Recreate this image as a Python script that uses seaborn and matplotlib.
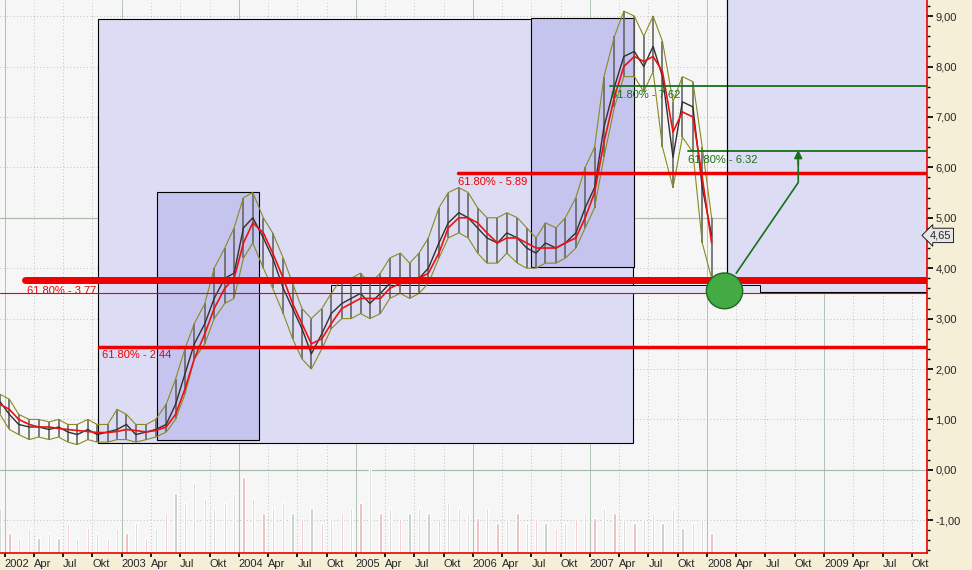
import matplotlib
matplotlib.use("Agg")
import matplotlib.pyplot as plt
import seaborn as sns
import numpy as np
import pandas as pd
from matplotlib.patches import Rectangle, Ellipse

sns.set_theme(style="white")
plt.rcParams['font.family'] = ['Liberation Sans', 'DejaVu Sans']

# monthly data (decimal year, close, high, low)
t = [2001.96,2002.04,2002.12,2002.21,2002.29,2002.38,2002.46,2002.54,2002.62,2002.71,2002.79,2002.88,
     2002.96,2003.04,2003.12,2003.21,2003.29,2003.38,2003.46,2003.54,2003.62,2003.71,2003.79,2003.88,
     2003.96,2004.04,2004.12,2004.21,2004.29,2004.38,2004.46,2004.54,2004.62,2004.71,2004.79,2004.88,
     2004.96,2005.04,2005.12,2005.21,2005.29,2005.38,2005.46,2005.54,2005.62,2005.71,2005.79,2005.88,
     2005.96,2006.04,2006.12,2006.21,2006.29,2006.38,2006.46,2006.54,2006.62,2006.71,2006.79,2006.88,
     2006.96,2007.04,2007.12,2007.21,2007.29,2007.38,2007.46,2007.54,2007.62,2007.71,2007.79,2007.88,
     2007.96,2008.04]
close = [1.35,1.1,0.9,0.85,0.85,0.8,0.85,0.75,0.7,0.8,0.7,0.75,
         0.8,0.9,0.7,0.75,0.8,0.9,1.3,1.9,2.5,2.9,3.4,3.8,
         3.9,4.8,5.0,4.6,4.2,3.6,3.2,2.8,2.3,2.7,3.1,3.3,
         3.4,3.5,3.3,3.5,3.7,3.8,3.7,3.8,4.0,4.5,4.9,5.1,
         5.0,4.8,4.6,4.5,4.7,4.6,4.4,4.3,4.5,4.4,4.5,4.7,
         5.2,5.6,6.8,7.6,8.2,8.3,8.0,8.4,7.8,6.2,7.3,7.2,
         5.6,4.65]
high = [1.5,1.4,1.1,1.0,1.0,0.95,1.0,0.9,0.9,1.0,0.9,0.9,
        1.2,1.1,0.9,0.9,1.0,1.3,1.8,2.4,2.9,3.3,4.0,4.4,
        4.8,5.4,5.5,5.0,4.7,4.2,3.7,3.2,3.0,3.2,3.5,3.8,
        3.8,3.9,3.7,3.9,4.2,4.3,4.1,4.3,4.6,5.2,5.5,5.6,
        5.5,5.2,5.0,5.0,5.1,5.0,4.8,4.6,4.9,4.8,5.0,5.4,
        6.0,6.4,7.8,8.6,9.1,9.0,8.6,9.0,8.5,7.3,7.8,7.7,
        6.4,5.0]
low = [1.1,0.8,0.7,0.6,0.65,0.6,0.65,0.55,0.5,0.6,0.55,0.55,
       0.6,0.6,0.55,0.6,0.65,0.75,1.0,1.5,2.2,2.5,3.0,3.3,
       3.4,4.2,4.5,4.0,3.6,3.1,2.6,2.2,2.0,2.4,2.8,3.0,
       3.0,3.1,3.0,3.1,3.4,3.5,3.4,3.5,3.7,4.2,4.6,4.7,
       4.6,4.3,4.1,4.1,4.3,4.1,4.0,4.0,4.1,4.1,4.2,4.4,
       4.8,5.2,6.2,7.2,7.8,7.8,7.5,7.9,6.4,5.6,6.6,6.3,
       4.5,3.8]
ma = [1.3,1.2,1.0,0.9,0.85,0.85,0.82,0.8,0.78,0.76,0.74,0.74,
      0.76,0.8,0.78,0.75,0.78,0.85,1.1,1.6,2.2,2.7,3.2,3.6,
      3.8,4.5,4.9,4.7,4.3,3.8,3.3,2.9,2.5,2.6,2.9,3.2,
      3.3,3.4,3.4,3.4,3.6,3.7,3.7,3.8,3.9,4.3,4.8,5.0,
      5.0,4.9,4.7,4.5,4.6,4.6,4.5,4.4,4.4,4.4,4.5,4.6,
      5.0,5.5,6.5,7.4,8.0,8.2,8.1,8.2,7.9,6.7,7.1,7.0,
      5.8,4.5]
volume = [0.9,0.4,0.3,0.5,0.3,0.4,0.3,0.6,0.3,0.5,0.4,0.3,
          0.5,0.4,0.6,0.3,0.5,0.8,1.2,1.0,1.4,1.1,0.9,1.0,
          1.2,1.5,1.1,0.8,0.9,1.0,0.8,0.7,0.9,0.6,0.7,0.8,
          0.9,1.0,1.7,0.8,0.9,0.7,0.8,0.9,0.8,0.7,1.0,0.9,
          0.8,0.7,0.9,0.6,0.7,0.8,0.6,0.7,0.6,0.5,0.6,0.7,
          0.8,0.7,0.9,0.8,0.7,0.6,0.7,0.8,0.6,0.9,0.5,0.6,
          0.7,0.4]

fib_levels = [3.77, 2.44, 5.89, 6.32, 7.62]
fib_labels = ["61.80% - 3.77", "61.80% - 2.44", "61.80% - 5.89", "61.80% - 6.32", "61.80% - 7.62"]

df = pd.DataFrame(dict(t=t, close=close, high=high, low=low, ma=ma, volume=volume))

fig = plt.figure(figsize=(9.72, 5.70), dpi=100, facecolor="#f5efd8")
ax = fig.add_axes([0, 17/570, 927/972, 553/570])
ax.set_facecolor("#f6f6f6")
x0, x1 = 2001.96, 2009.88
ax.set_xlim(x0, x1)
ax.set_ylim(-1.65, 9.32)

# grid
for yv in np.arange(-1, 10, 1):
    ax.axhline(yv, color="#b0b0b0", lw=0.6, ls=(0, (1, 3)), zorder=0)
ax.axhline(0, color="#a8bba8", lw=0.8, zorder=0)
ax.axhline(5, color="#a8bba8", lw=0.8, zorder=0)
for yr in range(2002, 2010):
    for m in [0, 0.25, 0.5, 0.75]:
        xv = yr + m
        ax.axvline(xv, color="#a8bba8" if m == 0 else "#b0b0b0", lw=0.6,
                   ls="-" if m == 0 else (0, (1, 3)), zorder=0)

# boxes
ax.add_patch(Rectangle((2002.80, 0.54), 2007.37 - 2002.80, 8.95 - 0.54, fc="#dcdcf4", ec="black", lw=0.8, zorder=1))
ax.add_patch(Rectangle((2003.30, 0.60), 2004.17 - 2003.30, 5.52 - 0.60, fc="#c4c4ee", ec="black", lw=0.8, zorder=1))
ax.add_patch(Rectangle((2006.50, 4.03), 2007.38 - 2006.50, 8.97 - 4.03, fc="#c4c4ee", ec="black", lw=0.8, zorder=1))
ax.add_patch(Rectangle((2008.17, 3.53), 2, 7, fc="#dcdcf4", ec="black", lw=0.8, zorder=1))
ax.add_patch(Rectangle((2004.79, 3.51), 2008.45 - 2004.79, 0.16, fc="#e4e4f4", ec="black", lw=0.7, zorder=2))

# volume bars
vol_colors = ["#e8b4b4" if i % 2 else "#c0c8c0" for i in range(len(t))]
ax.bar(df.t, df.volume, bottom=-1.65, width=0.02, color=vol_colors, zorder=1)

# price
ax.vlines(df.t, df.low, df.high, color="#666666", lw=1.2, zorder=3)
sns.lineplot(data=df, x="t", y="high", color="#8a8a20", lw=0.8, ax=ax, zorder=3)
sns.lineplot(data=df, x="t", y="low", color="#8a8a20", lw=0.8, ax=ax, zorder=3)
sns.lineplot(data=df, x="t", y="close", color="#303030", lw=1.0, ax=ax, zorder=4)
sns.lineplot(data=df, x="t", y="ma", color="#ee1111", lw=1.2, ax=ax, zorder=5)

# fib lines
ax.plot([2002.17, x1], [3.77, 3.77], color="#ee0000", lw=5, zorder=6)
ax.axhline(3.51, color="#ee0000", lw=0.8, zorder=6)
ax.plot([2002.81, x1], [2.44, 2.44], color="#ee0000", lw=2.5, zorder=6)
ax.plot([2005.87, x1], [5.89, 5.89], color="#ee0000", lw=2.5, zorder=6)
ax.plot([2007.84, x1], [6.32, 6.32], color="#1a6e1a", lw=1.3, zorder=6)
ax.plot([2007.17, x1], [7.62, 7.62], color="#1a6e1a", lw=1.3, zorder=6)
ax.text(2002.19, 3.55, fib_labels[0], color="#ee0000", fontsize=8, va="center", zorder=7)
ax.text(2002.83, 2.28, fib_labels[1], color="#ee0000", fontsize=8, va="center", zorder=7)
ax.text(2005.87, 5.70, fib_labels[2], color="#ee0000", fontsize=8, va="center", zorder=7)
ax.text(2007.84, 6.14, fib_labels[3], color="#1a6e1a", fontsize=8, va="center", zorder=7)
ax.text(2007.18, 7.43, fib_labels[4], color="#1a6e1a", fontsize=8, va="center", zorder=4)

# markers
ax.plot([2008.17, 2008.17], [3.77, 9.32], color="black", lw=0.8, zorder=6)
ax.add_patch(Ellipse((2008.15, 3.55), 0.31, 0.71, fc="#44aa44", ec="#226622", zorder=7))
ax.plot([2008.25, 2008.78, 2008.78], [3.9, 5.7, 6.2], color="#1a6e1a", lw=1.2, zorder=7)
ax.annotate("", xy=(2008.78, 6.4), xytext=(2008.78, 6.0),
            arrowprops=dict(arrowstyle="-|>", color="#1a6e1a", lw=1.2), zorder=7)
ax.set_xlabel(""); ax.set_ylabel("")

# axes styling
for k, s in ax.spines.items():
    s.set_color("#ee0000"); s.set_linewidth(1.2)
ax.spines["left"].set_visible(False)
ax.spines["top"].set_visible(False)
ax.yaxis.tick_right()
yt = np.arange(-1, 10, 1)
ax.set_yticks(yt)
ax.set_yticklabels([f"{v:.2f}".replace(".", ",") for v in yt], fontsize=8)
ax.set_yticks(np.arange(-1.6, 9.3, 0.2), minor=True)
ax.tick_params(axis="y", which="both", right=True, direction="out", color="black", length=4, pad=2)
ax.tick_params(axis="y", which="minor", length=2)
xt, xl = [], []
for yr in range(2002, 2010):
    for m, lab in [(0, str(yr)), (0.25, "Apr"), (0.5, "Jul"), (0.75, "Okt")]:
        xt.append(yr + m); xl.append(lab)
ax.set_xticks(xt)
ax.set_xticklabels(xl, fontsize=8, ha="left")
ax.tick_params(axis="x", bottom=True, direction="out", length=3, pad=1, color="black")

ax.text(1.003, (4.65 + 1.65) / 10.97, "4,65", transform=ax.transAxes, fontsize=8, va="center",
        bbox=dict(boxstyle="larrow,pad=0.2", fc="#e6e6e6", ec="black", lw=0.6))

fig.savefig("out.png", dpi=100, facecolor=fig.get_facecolor())
